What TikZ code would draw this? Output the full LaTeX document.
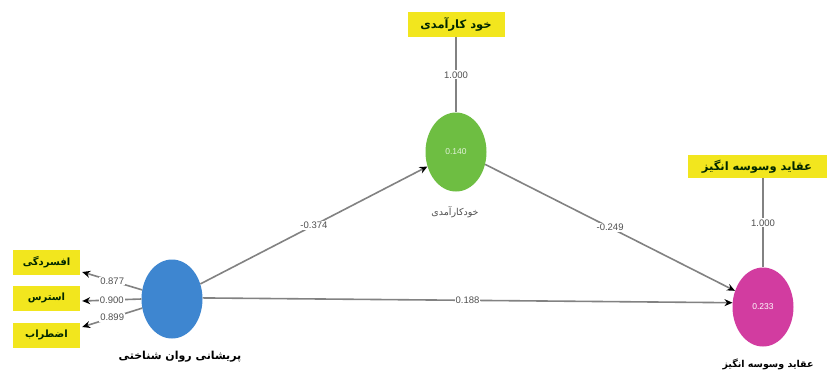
\documentclass[tikz,border=0pt]{standalone}
\usepackage{fontspec}
\TeXXeTstate=1
\setmainfont{Liberation Sans}
\newfontfamily\arabicfont[Script=Arabic]{DejaVu Sans}
\usetikzlibrary{shapes.geometric,arrows.meta,calc}
\definecolor{plsblue}{RGB}{62,134,208}
\definecolor{plsgreen}{RGB}{110,190,66}
\definecolor{plspink}{RGB}{210,60,160}
\definecolor{plsyellow}{RGB}{242,230,30}
\definecolor{lineg}{RGB}{130,130,130}
\definecolor{txtg}{RGB}{80,80,80}
\tikzset{
  latent/.style={ellipse, minimum width=61pt, minimum height=79pt, inner sep=0pt, draw=none, font=\fontsize{8.5}{10}\selectfont},
  indic/.style={fill=plsyellow, minimum width=67pt, minimum height=25pt, inner sep=0pt, text=black!85!green, font=\arabicfont\bfseries\fontsize{10}{12}\selectfont},
  gline/.style={draw=lineg, line width=1.6pt},
  conn/.style={gline, -{Stealth[black,length=8pt,width=7pt]}},
  coef/.style={fill=white, inner sep=1pt, text=txtg, font=\fontsize{9.5}{11}\selectfont},
  latlabel/.style={font=\arabicfont\bfseries\fontsize{11}{13}\selectfont}
}
\begin{document}
\begin{tikzpicture}[x=1pt,y=-1pt]
\useasboundingbox[fill=white] (0,0) rectangle (833,373);
% latent variables
\node[latent, fill=plsblue] (PD) at (172,299) {};
\node[latent, fill=plsgreen, text=white!80!plsgreen] (SE) at (456,152) {0.140};
\node[latent, fill=plspink, text=white] (OB) at (763,307) {0.233};
% indicators
\node[indic] (i1) at (46.5,262) {\beginR افسردگی\endR};
\node[indic] (i2) at (46.5,298) {\beginR استرس\endR};
\node[indic] (i3) at (46.5,335) {\beginR اضطراب\endR};
\node[indic, minimum width=97pt, font=\arabicfont\bfseries\fontsize{11.5}{13}\selectfont] (tSE) at (456,24.5) {\beginR خود کارآمدی\endR};
\node[indic, minimum width=139pt, minimum height=23pt, font=\arabicfont\bfseries\fontsize{11.5}{13}\selectfont] (tOB) at (757,166.5) {\beginR عقاید وسوسه انگیز\endR};
% labels
\node[latlabel] (lPD) at (180,357) {\beginR پریشانی روان شناختی\endR};
\node[font=\arabicfont\fontsize{9.5}{11}\selectfont, text=txtg] (lSE) at (455,212) {\beginR خودکارآمدی\endR};
\node[latlabel, font=\arabicfont\bfseries\fontsize{9.5}{11}\selectfont] (lOB) at (768,364) {\beginR عقاید وسوسه انگیز\endR};
% reflective links
\draw[gline] (tSE.south) -- node[coef]{1.000} (SE.north);
\draw[gline] (OB.north |- tOB.south) -- node[coef]{1.000} (OB.north);
\draw[conn] (PD.163) -- node[coef]{0.877} ($(i1.east)+(2,10)$);
\draw[conn] (PD.180) -- node[coef]{0.900} ($(i2.east)+(2,3)$);
\draw[conn] (PD.197) -- node[coef]{0.899} ($(i3.east)+(2,-8)$);
% structural paths
\draw[conn] (PD.28) -- node[coef]{-0.374} (SE.207);
\draw[conn] (SE.-23) -- node[coef]{-0.249} (OB.150);
\draw[conn] (PD.2) -- node[coef]{0.188} (OB.172);
\end{tikzpicture}
\end{document}
